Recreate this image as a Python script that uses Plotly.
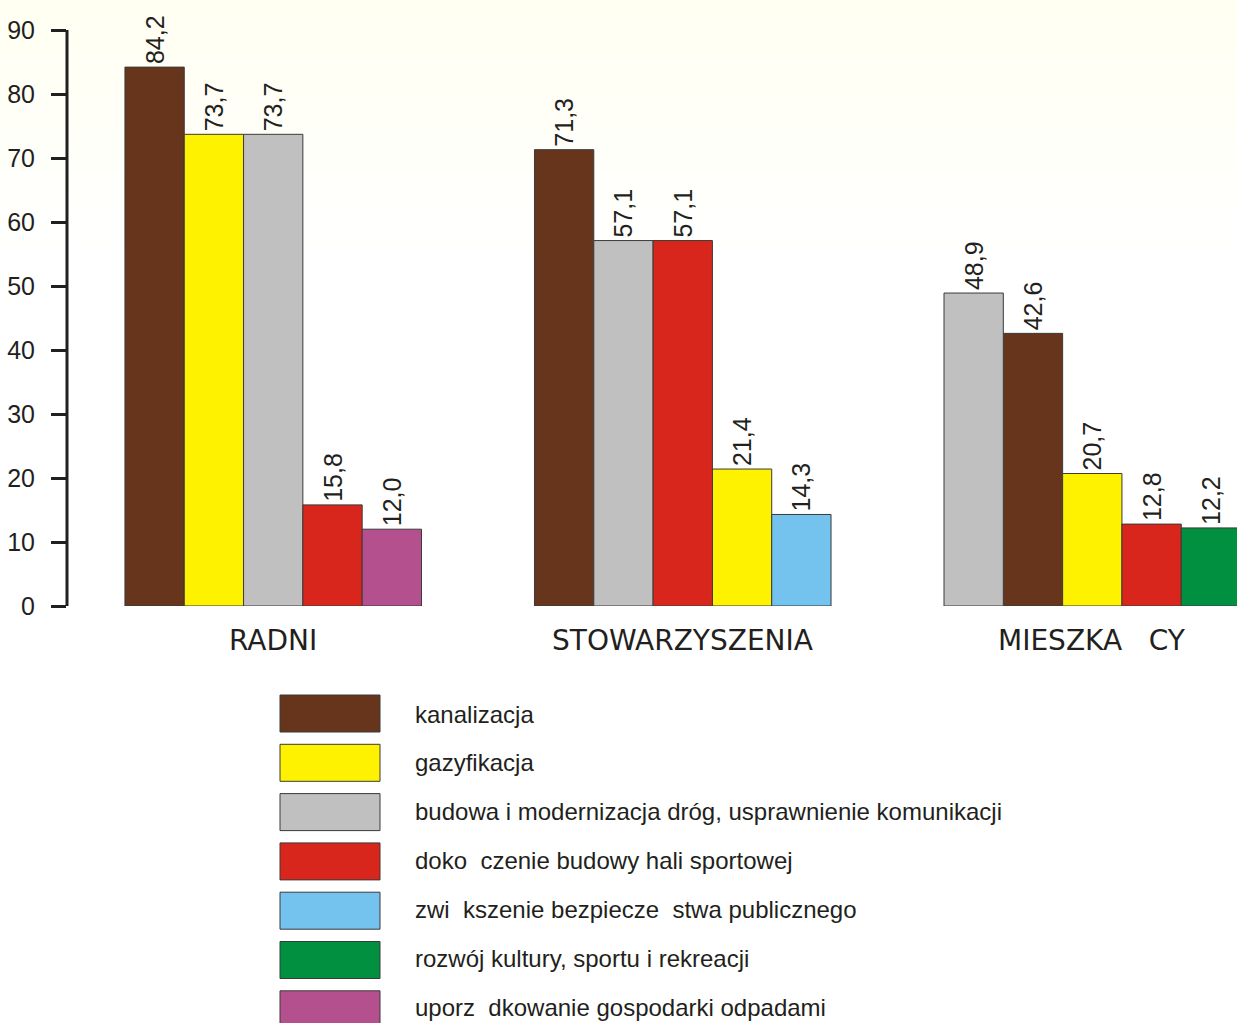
import plotly.graph_objects as go

# ---------------- data ----------------
groups = ["RADNI", "STOWARZYSZENIA", "MIESZKA\u00a0\u00a0\u00a0CY"]

radni_cats = ["kan", "gaz", "drogi", "hala", "odpady"]
radni_vals = [84.2, 73.7, 73.7, 15.8, 12.0]

stow_cats = ["kan", "drogi", "hala", "gaz", "bezp"]
stow_vals = [71.3, 57.1, 57.1, 21.4, 14.3]

miesz_cats = ["drogi", "kan", "gaz", "hala", "kultura"]
miesz_vals = [48.9, 42.6, 20.7, 12.8, 12.2]

cat_keys = ["kan", "gaz", "drogi", "hala", "bezp", "kultura", "odpady"]
cat_labels = [
    "kanalizacja",
    "gazyfikacja",
    "budowa i modernizacja dróg, usprawnienie komunikacji",
    "doko\u00a0\u00a0czenie budowy hali sportowej",
    "zwi\u00a0\u00a0kszenie bezpiecze\u00a0\u00a0stwa publicznego",
    "rozwój kultury, sportu i rekreacji",
    "uporz\u00a0\u00a0dkowanie gospodarki odpadami",
]
cat_colors = ["#66351C", "#FFF200", "#C0C0C0", "#D9261C", "#74C3EE", "#009040", "#B5508F"]

yticks = [0, 10, 20, 30, 40, 50, 60, 70, 80, 90]

# ---------------- layout constants ----------------
W, H = 1237, 1023
ML, MR, MT, MB = 67, 0, 0, 417
PW, PH = W - ML - MR, H - MT - MB
GAP = 6.905          # distance between group starts (in bar widths)
YMAX = 90 + 30 / 6.4
TXT = "#231F20"
FONT = "Liberation Sans, Arial, sans-serif"

group_cats = [radni_cats, stow_cats, miesz_cats]
group_vals = [radni_vals, stow_vals, miesz_vals]

fig = go.Figure()
for key, lab, col in zip(cat_keys, cat_labels, cat_colors):
    xs, ys = [], []
    for g, (cats, vals) in enumerate(zip(group_cats, group_vals)):
        for k, (c, v) in enumerate(zip(cats, vals)):
            if c == key:
                xs.append(g * GAP + k)
                ys.append(v)
    fig.add_trace(go.Bar(
        x=xs, y=ys, name=lab, width=1,
        marker=dict(color=col, line=dict(color="#3A3A3A", width=1)),
        texttemplate="%{y:.1f}", textposition="outside", textangle=-90,
        textfont=dict(family=FONT, size=25, color=TXT),
        constraintext="none", cliponaxis=False, showlegend=False,
    ))

def px_x(p):
    return (p - ML) / PW

def px_y(p):
    return (MT + PH - p) / PH

shapes = []
# soft cream background gradient at top
n_b = 14
for i in range(n_b):
    t = i / (n_b - 1)
    b = int(round(242 + (255 - 242) * t))
    shapes.append(dict(type="rect", xref="paper", yref="paper",
                       x0=px_x(0), x1=px_x(W), y0=px_y(i * 19 + 19), y1=px_y(i * 19),
                       fillcolor=f"rgb(255,255,{b})", line=dict(width=0), layer="below"))
# y axis line
shapes.append(dict(type="line", xref="paper", yref="y", x0=0, x1=0, y0=0, y1=90,
                   line=dict(color=TXT, width=3)))

annotations = []
for g, name in enumerate(groups):
    annotations.append(dict(x=g * GAP + 2, y=0, xref="x", yref="paper", yshift=-34,
                            text=name, showarrow=False, xanchor="center", yanchor="middle",
                            font=dict(family="DejaVu Sans", size=28, color=TXT)))

# manual legend
for i, (lab, col) in enumerate(zip(cat_labels, cat_colors)):
    top = 695 + i * 49.3
    shapes.append(dict(type="rect", xref="paper", yref="paper",
                       x0=px_x(280), x1=px_x(380), y0=px_y(top + 37), y1=px_y(top),
                       fillcolor=col, line=dict(color="#3A3A3A", width=1)))
    annotations.append(dict(x=px_x(413), y=px_y(714 + i * 48.9), xref="paper", yref="paper",
                            text=lab, showarrow=False, xanchor="left", yanchor="middle",
                            font=dict(family=FONT, size=24, color=TXT)))

fig.update_layout(
    width=W, height=H, autosize=False,
    margin=dict(l=ML, r=MR, t=MT, b=MB, pad=0),
    paper_bgcolor="white", plot_bgcolor="rgba(0,0,0,0)",
    separators=", ",
    barmode="overlay",
    xaxis=dict(range=[-1.477, 18.25], visible=False, showgrid=False, zeroline=False),
    yaxis=dict(range=[0, YMAX], tickvals=yticks, ticks="outside", ticklen=15, tickwidth=3,
               tickcolor=TXT, showline=False, showgrid=False, zeroline=False,
               ticklabelstandoff=11,
               tickfont=dict(family=FONT, size=25, color=TXT)),
    shapes=shapes, annotations=annotations,
)

fig.write_html("out.html", config={"displayModeBar": False},
               post_script="document.body.style.margin='0';document.body.style.overflow='hidden';")
